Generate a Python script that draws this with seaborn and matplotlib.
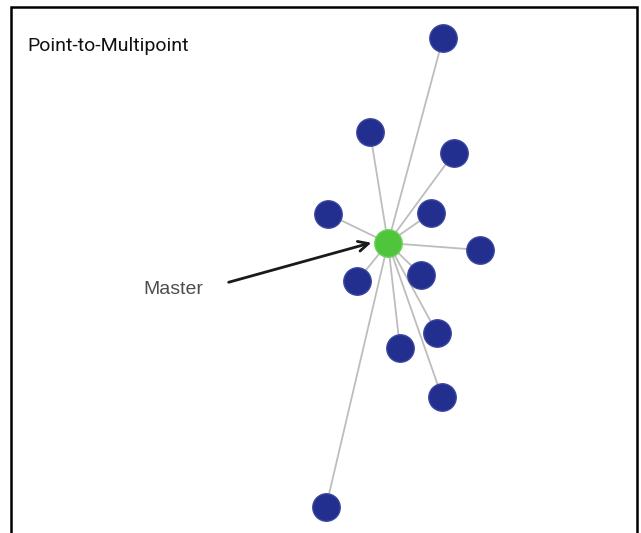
import matplotlib
matplotlib.use("Agg")
import matplotlib.pyplot as plt
import seaborn as sns
import pandas as pd

# node positions (pixel coords, y down)
master_x = [388]
master_y = [243]
node_x = [443, 370, 454, 328, 431, 480, 357, 421, 437, 400, 442, 326]
node_y = [38, 132, 153, 214, 213, 250, 281, 275, 333, 348, 397, 507]

nodes = pd.DataFrame({"x": node_x, "y": node_y})
master = pd.DataFrame({"x": master_x, "y": master_y})

sns.set_style("white")
fig = plt.figure(figsize=(6.41, 5.33), dpi=100)
ax = fig.add_axes([0, 0, 1, 1])
ax.set_xlim(0, 641)
ax.set_ylim(533, 0)
ax.axis("off")

# links from master to each slave
for x, y in zip(node_x, node_y):
    ax.plot([master_x[0], x], [master_y[0], y], color="#bdbdbd", lw=1.3, zorder=1)

sns.scatterplot(data=nodes, x="x", y="y", s=390, color="#232f8e",
                edgecolor="#3a45a0", linewidth=1, ax=ax, zorder=3, legend=False)
sns.scatterplot(data=master, x="x", y="y", s=390, color="#4fc53c",
                edgecolor="#6ad05a", linewidth=1, ax=ax, zorder=3, legend=False)

ax.annotate("", xy=(374, 242), xytext=(226, 283),
            arrowprops=dict(arrowstyle="->", color="#1a1a1a", lw=2,
                            mutation_scale=18), zorder=4)
ax.text(143, 289, "Master", fontsize=14, color="#4d4d4d",
        family="Liberation Sans", va="center", ha="left")
ax.text(27, 46, "Point-to-Multipoint", fontsize=14, color="#111111",
        family="Roboto", va="center", ha="left")

# outer frame
fig.patches.append(plt.Rectangle((11 / 641, -0.05), 626 / 641, 1.05 - 7 / 533,
                                 transform=fig.transFigure, fill=False,
                                 edgecolor="black", lw=1.8))

fig.savefig("out.png", dpi=100)
